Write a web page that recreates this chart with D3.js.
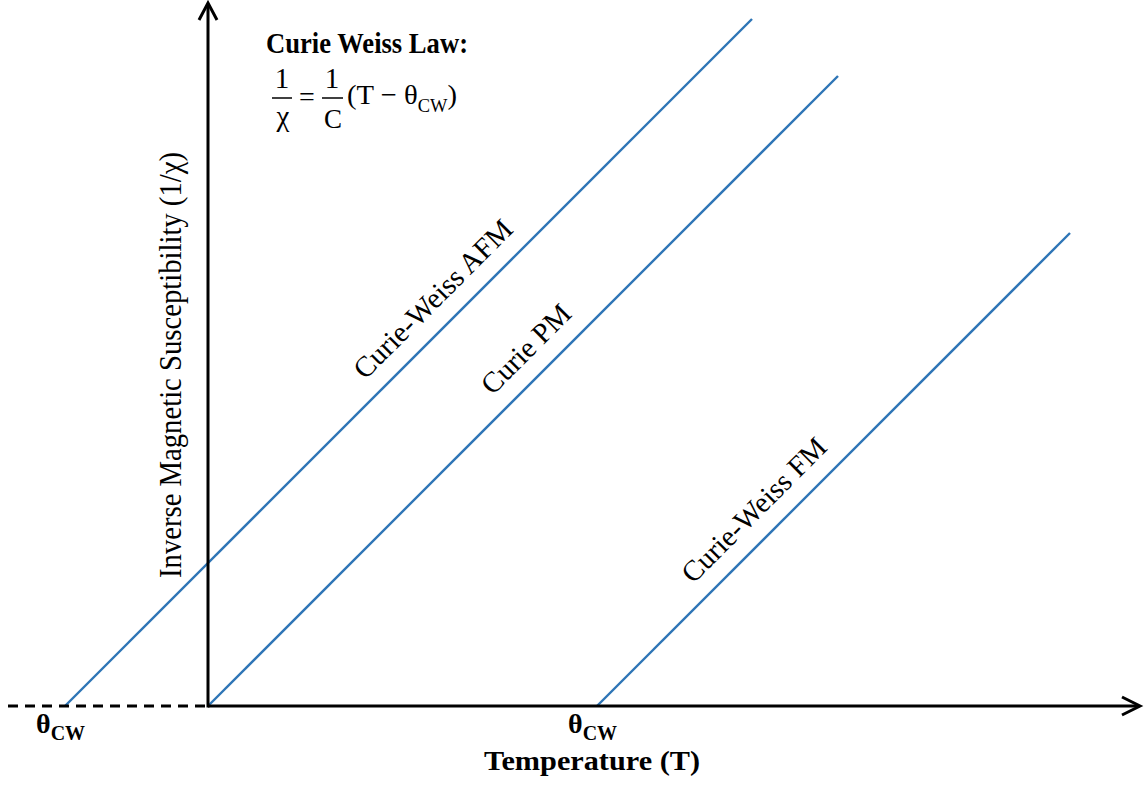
<!DOCTYPE html>
<html>
<head>
<meta charset="utf-8">
<script src="https://cdn.jsdelivr.net/npm/d3@7/dist/d3.min.js"></script>
<style>
  html, body { margin: 0; padding: 0; background: #fff; }
  svg { display: block; }
</style>
</head>
<body>
<script>
// ---- data (arbitrary units; slope 1 => 1/C = 1) ----
const seriesNames = ["Curie-Weiss AFM", "Curie PM", "Curie-Weiss FM"];
const thetaCW     = [-1.43, 0, 3.89];     // x-intercepts
const tEnd        = [5.44, 6.30, 8.62];   // last temperature drawn
const labelAtT    = [2.445, 3.375, 5.655]; // where label sits along line
const xDomain = [0, 9.32];
const yDomain = [0, 7.03];
const dashStart = -2.0;
const thetaTicks = [-1.43, 3.89];

const W = 1144, H = 786;
const SERIF = "'Liberation Serif', 'Times New Roman', Tinos, 'DejaVu Serif', serif";
const svg = d3.select("body").append("svg").attr("width", W).attr("height", H)
  .style("font-family", SERIF);

const x = d3.scaleLinear().domain(xDomain).range([208, 1140]);
const y = d3.scaleLinear().domain(yDomain).range([706, 3]);

const blue = "#2E75B6";

// series lines
const lineGen = d3.line().x(d => x(d[0])).y(d => y(d[1]));
seriesNames.forEach((name, i) => {
  const pts = [[thetaCW[i], 0], [tEnd[i], tEnd[i] - thetaCW[i]]];
  svg.append("path").attr("d", lineGen(pts))
    .attr("fill", "none").attr("stroke", blue).attr("stroke-width", 2.4);
});

// dashed negative-T axis
svg.append("line")
  .attr("x1", x(dashStart)).attr("x2", x(0))
  .attr("y1", y(0)).attr("y2", y(0))
  .attr("stroke", "#000").attr("stroke-width", 3)
  .attr("stroke-dasharray", "10,7");

// axes
svg.append("line").attr("x1", x(0)).attr("x2", x(xDomain[1]) - 2)
  .attr("y1", y(0)).attr("y2", y(0)).attr("stroke", "#000").attr("stroke-width", 3);
svg.append("line").attr("x1", x(0)).attr("x2", x(0))
  .attr("y1", y(0) + 1.5).attr("y2", y(yDomain[1]) + 2).attr("stroke", "#000").attr("stroke-width", 3);

// arrowheads (open chevrons)
const xt = x(xDomain[1]), yt = y(0);
svg.append("path").attr("d", `M${xt-18},${yt-9} L${xt},${yt} L${xt-18},${yt+9}`)
  .attr("fill", "none").attr("stroke", "#000").attr("stroke-width", 3).attr("stroke-linejoin", "miter");
const ax = x(0), ay = y(yDomain[1]);
svg.append("path").attr("d", `M${ax-9},${ay+17} L${ax},${ay} L${ax+9},${ay+17}`)
  .attr("fill", "none").attr("stroke", "#000").attr("stroke-width", 3).attr("stroke-linejoin", "miter");

// theta_CW tick labels
thetaTicks.forEach(t => {
  const t0 = svg.append("text")
    .attr("x", x(t) - 29).attr("y", y(0) + 27)
    .attr("font-weight", "bold");
  t0.append("tspan").attr("font-size", 28).text("θ");
  t0.append("tspan").attr("font-size", 20).attr("dy", 7).text("CW");
});

// series labels, rotated along lines
seriesNames.forEach((name, i) => {
  const t = labelAtT[i];
  const px = x(t), py = y(t - thetaCW[i]);
  const off = 18 / Math.SQRT2;
  svg.append("text")
    .attr("transform", `translate(${px - off},${py - off}) rotate(-45)`)
    .attr("text-anchor", "middle")
    .attr("font-size", 29)
    .text(name);
});

// axis titles
svg.append("text")
  .attr("x", 484).attr("y", 770)
  .attr("font-size", 28).attr("font-weight", "bold")
  .attr("textLength", 216).attr("lengthAdjust", "spacingAndGlyphs")
  .text("Temperature (T)");

svg.append("text")
  .attr("transform", "translate(181,365) rotate(-90)")
  .attr("text-anchor", "middle")
  .attr("font-size", 32)
  .attr("textLength", 426).attr("lengthAdjust", "spacingAndGlyphs")
  .text("Inverse Magnetic Susceptibility (1/χ)");

// Curie-Weiss law annotation
svg.append("text")
  .attr("x", 266).attr("y", 53)
  .attr("font-size", 29).attr("font-weight", "bold")
  .attr("textLength", 202).attr("lengthAdjust", "spacingAndGlyphs")
  .text("Curie Weiss Law:");

const f = svg.append("g");
f.append("text").attr("x", 282).attr("y", 88).attr("text-anchor", "middle").attr("font-size", 29).text("1");
f.append("line").attr("x1", 272).attr("x2", 292).attr("y1", 98).attr("y2", 98).attr("stroke", "#000").attr("stroke-width", 1.5);
f.append("text").attr("x", 283).attr("y", 126).attr("text-anchor", "middle").attr("font-size", 29).text("χ");
f.append("text").attr("x", 307).attr("y", 106).attr("text-anchor", "middle").attr("font-size", 28).text("=");
f.append("text").attr("x", 332).attr("y", 88).attr("text-anchor", "middle").attr("font-size", 29).text("1");
f.append("line").attr("x1", 322).attr("x2", 343).attr("y1", 98).attr("y2", 98).attr("stroke", "#000").attr("stroke-width", 1.5);
f.append("text").attr("x", 333).attr("y", 128).attr("text-anchor", "middle").attr("font-size", 27).text("C");
const eq = f.append("text").attr("x", 347).attr("y", 104).attr("font-size", 28)
  .attr("textLength", 110).attr("lengthAdjust", "spacingAndGlyphs");
eq.append("tspan").text("(T − θ");
eq.append("tspan").attr("font-size", 18).attr("dy", 8).text("CW");
eq.append("tspan").attr("dy", -8).text(")");
</script>
</body>
</html>
